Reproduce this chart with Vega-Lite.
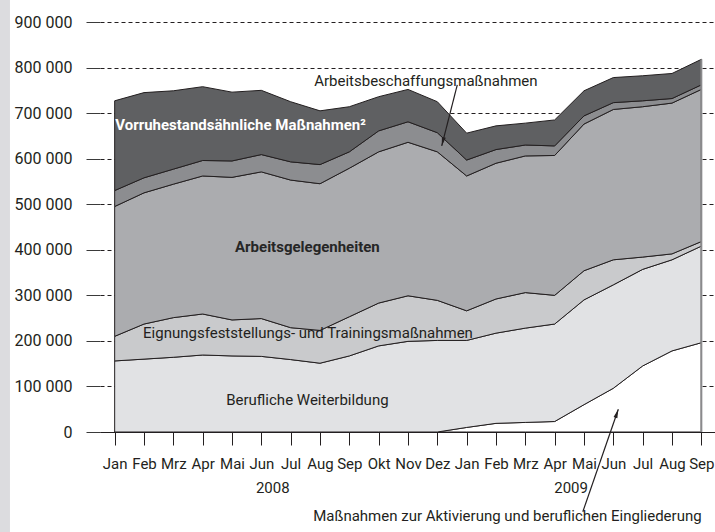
{
  "$schema": "https://vega.github.io/schema/vega-lite/v6.json",
  "width": 616,
  "height": 410,
  "autosize": "none",
  "padding": {"left": 100, "top": 22, "right": 0, "bottom": 100},
  "background": "white",
  "config": {
    "view": {"stroke": null},
    "font": "Roboto",
    "axis": {"labelFont": "Roboto", "labelColor": "#231f20", "titleFont": "Roboto"},
    "axisX": {"grid": false, "domain": true, "domainColor": "#231f20", "domainWidth": 1, "ticks": true, "tickSize": 13, "tickColor": "#231f20", "tickWidth": 1, "labelFontSize": 15, "labelPadding": 11, "labelFlush": false, "labelOverlap": false},
    "axisY": {"grid": true, "gridDash": [4, 3], "gridColor": "#231f20", "gridWidth": 1, "domain": false, "ticks": true, "tickSize": 14, "tickColor": "#3a3a3a", "tickWidth": 1, "labelFontSize": 16, "labelPadding": 14, "labelOverlap": false}
  },
  "datasets": {
    "series": [
      {"m": 0, "s": "Maßnahmen zur Aktivierung und beruflichen Eingliederung", "v": 0},
      {"m": 1, "s": "Maßnahmen zur Aktivierung und beruflichen Eingliederung", "v": 0},
      {"m": 2, "s": "Maßnahmen zur Aktivierung und beruflichen Eingliederung", "v": 0},
      {"m": 3, "s": "Maßnahmen zur Aktivierung und beruflichen Eingliederung", "v": 0},
      {"m": 4, "s": "Maßnahmen zur Aktivierung und beruflichen Eingliederung", "v": 0},
      {"m": 5, "s": "Maßnahmen zur Aktivierung und beruflichen Eingliederung", "v": 0},
      {"m": 6, "s": "Maßnahmen zur Aktivierung und beruflichen Eingliederung", "v": 0},
      {"m": 7, "s": "Maßnahmen zur Aktivierung und beruflichen Eingliederung", "v": 0},
      {"m": 8, "s": "Maßnahmen zur Aktivierung und beruflichen Eingliederung", "v": 0},
      {"m": 9, "s": "Maßnahmen zur Aktivierung und beruflichen Eingliederung", "v": 0},
      {"m": 10, "s": "Maßnahmen zur Aktivierung und beruflichen Eingliederung", "v": 0},
      {"m": 11, "s": "Maßnahmen zur Aktivierung und beruflichen Eingliederung", "v": 0},
      {"m": 12, "s": "Maßnahmen zur Aktivierung und beruflichen Eingliederung", "v": 10000},
      {"m": 13, "s": "Maßnahmen zur Aktivierung und beruflichen Eingliederung", "v": 19000},
      {"m": 14, "s": "Maßnahmen zur Aktivierung und beruflichen Eingliederung", "v": 21000},
      {"m": 15, "s": "Maßnahmen zur Aktivierung und beruflichen Eingliederung", "v": 23000},
      {"m": 16, "s": "Maßnahmen zur Aktivierung und beruflichen Eingliederung", "v": 60000},
      {"m": 17, "s": "Maßnahmen zur Aktivierung und beruflichen Eingliederung", "v": 96000},
      {"m": 18, "s": "Maßnahmen zur Aktivierung und beruflichen Eingliederung", "v": 145000},
      {"m": 19, "s": "Maßnahmen zur Aktivierung und beruflichen Eingliederung", "v": 178000},
      {"m": 20, "s": "Maßnahmen zur Aktivierung und beruflichen Eingliederung", "v": 196000},
      {"m": 0, "s": "Berufliche Weiterbildung", "v": 156000},
      {"m": 1, "s": "Berufliche Weiterbildung", "v": 160000},
      {"m": 2, "s": "Berufliche Weiterbildung", "v": 164000},
      {"m": 3, "s": "Berufliche Weiterbildung", "v": 169000},
      {"m": 4, "s": "Berufliche Weiterbildung", "v": 167000},
      {"m": 5, "s": "Berufliche Weiterbildung", "v": 166000},
      {"m": 6, "s": "Berufliche Weiterbildung", "v": 159000},
      {"m": 7, "s": "Berufliche Weiterbildung", "v": 151000},
      {"m": 8, "s": "Berufliche Weiterbildung", "v": 167000},
      {"m": 9, "s": "Berufliche Weiterbildung", "v": 189000},
      {"m": 10, "s": "Berufliche Weiterbildung", "v": 199000},
      {"m": 11, "s": "Berufliche Weiterbildung", "v": 201000},
      {"m": 12, "s": "Berufliche Weiterbildung", "v": 191000},
      {"m": 13, "s": "Berufliche Weiterbildung", "v": 198000},
      {"m": 14, "s": "Berufliche Weiterbildung", "v": 207000},
      {"m": 15, "s": "Berufliche Weiterbildung", "v": 214000},
      {"m": 16, "s": "Berufliche Weiterbildung", "v": 230000},
      {"m": 17, "s": "Berufliche Weiterbildung", "v": 227000},
      {"m": 18, "s": "Berufliche Weiterbildung", "v": 212000},
      {"m": 19, "s": "Berufliche Weiterbildung", "v": 200000},
      {"m": 20, "s": "Berufliche Weiterbildung", "v": 212000},
      {"m": 0, "s": "Eignungsfeststellungs- und Trainingsmaßnahmen", "v": 54000},
      {"m": 1, "s": "Eignungsfeststellungs- und Trainingsmaßnahmen", "v": 77000},
      {"m": 2, "s": "Eignungsfeststellungs- und Trainingsmaßnahmen", "v": 87000},
      {"m": 3, "s": "Eignungsfeststellungs- und Trainingsmaßnahmen", "v": 90000},
      {"m": 4, "s": "Eignungsfeststellungs- und Trainingsmaßnahmen", "v": 79000},
      {"m": 5, "s": "Eignungsfeststellungs- und Trainingsmaßnahmen", "v": 83000},
      {"m": 6, "s": "Eignungsfeststellungs- und Trainingsmaßnahmen", "v": 70000},
      {"m": 7, "s": "Eignungsfeststellungs- und Trainingsmaßnahmen", "v": 72000},
      {"m": 8, "s": "Eignungsfeststellungs- und Trainingsmaßnahmen", "v": 86000},
      {"m": 9, "s": "Eignungsfeststellungs- und Trainingsmaßnahmen", "v": 94000},
      {"m": 10, "s": "Eignungsfeststellungs- und Trainingsmaßnahmen", "v": 100000},
      {"m": 11, "s": "Eignungsfeststellungs- und Trainingsmaßnahmen", "v": 88000},
      {"m": 12, "s": "Eignungsfeststellungs- und Trainingsmaßnahmen", "v": 65000},
      {"m": 13, "s": "Eignungsfeststellungs- und Trainingsmaßnahmen", "v": 75000},
      {"m": 14, "s": "Eignungsfeststellungs- und Trainingsmaßnahmen", "v": 78000},
      {"m": 15, "s": "Eignungsfeststellungs- und Trainingsmaßnahmen", "v": 63000},
      {"m": 16, "s": "Eignungsfeststellungs- und Trainingsmaßnahmen", "v": 64000},
      {"m": 17, "s": "Eignungsfeststellungs- und Trainingsmaßnahmen", "v": 55000},
      {"m": 18, "s": "Eignungsfeststellungs- und Trainingsmaßnahmen", "v": 27000},
      {"m": 19, "s": "Eignungsfeststellungs- und Trainingsmaßnahmen", "v": 13000},
      {"m": 20, "s": "Eignungsfeststellungs- und Trainingsmaßnahmen", "v": 10000},
      {"m": 0, "s": "Arbeitsgelegenheiten", "v": 285000},
      {"m": 1, "s": "Arbeitsgelegenheiten", "v": 288000},
      {"m": 2, "s": "Arbeitsgelegenheiten", "v": 293000},
      {"m": 3, "s": "Arbeitsgelegenheiten", "v": 303000},
      {"m": 4, "s": "Arbeitsgelegenheiten", "v": 313000},
      {"m": 5, "s": "Arbeitsgelegenheiten", "v": 322000},
      {"m": 6, "s": "Arbeitsgelegenheiten", "v": 324000},
      {"m": 7, "s": "Arbeitsgelegenheiten", "v": 322000},
      {"m": 8, "s": "Arbeitsgelegenheiten", "v": 326000},
      {"m": 9, "s": "Arbeitsgelegenheiten", "v": 332000},
      {"m": 10, "s": "Arbeitsgelegenheiten", "v": 337000},
      {"m": 11, "s": "Arbeitsgelegenheiten", "v": 326000},
      {"m": 12, "s": "Arbeitsgelegenheiten", "v": 296000},
      {"m": 13, "s": "Arbeitsgelegenheiten", "v": 298000},
      {"m": 14, "s": "Arbeitsgelegenheiten", "v": 300000},
      {"m": 15, "s": "Arbeitsgelegenheiten", "v": 307000},
      {"m": 16, "s": "Arbeitsgelegenheiten", "v": 322000},
      {"m": 17, "s": "Arbeitsgelegenheiten", "v": 330000},
      {"m": 18, "s": "Arbeitsgelegenheiten", "v": 330000},
      {"m": 19, "s": "Arbeitsgelegenheiten", "v": 331000},
      {"m": 20, "s": "Arbeitsgelegenheiten", "v": 334000},
      {"m": 0, "s": "Arbeitsbeschaffungsmaßnahmen", "v": 35000},
      {"m": 1, "s": "Arbeitsbeschaffungsmaßnahmen", "v": 33000},
      {"m": 2, "s": "Arbeitsbeschaffungsmaßnahmen", "v": 33000},
      {"m": 3, "s": "Arbeitsbeschaffungsmaßnahmen", "v": 34000},
      {"m": 4, "s": "Arbeitsbeschaffungsmaßnahmen", "v": 36000},
      {"m": 5, "s": "Arbeitsbeschaffungsmaßnahmen", "v": 38000},
      {"m": 6, "s": "Arbeitsbeschaffungsmaßnahmen", "v": 40000},
      {"m": 7, "s": "Arbeitsbeschaffungsmaßnahmen", "v": 42000},
      {"m": 8, "s": "Arbeitsbeschaffungsmaßnahmen", "v": 36000},
      {"m": 9, "s": "Arbeitsbeschaffungsmaßnahmen", "v": 46000},
      {"m": 10, "s": "Arbeitsbeschaffungsmaßnahmen", "v": 45000},
      {"m": 11, "s": "Arbeitsbeschaffungsmaßnahmen", "v": 42000},
      {"m": 12, "s": "Arbeitsbeschaffungsmaßnahmen", "v": 35000},
      {"m": 13, "s": "Arbeitsbeschaffungsmaßnahmen", "v": 30000},
      {"m": 14, "s": "Arbeitsbeschaffungsmaßnahmen", "v": 24000},
      {"m": 15, "s": "Arbeitsbeschaffungsmaßnahmen", "v": 21000},
      {"m": 16, "s": "Arbeitsbeschaffungsmaßnahmen", "v": 18000},
      {"m": 17, "s": "Arbeitsbeschaffungsmaßnahmen", "v": 15000},
      {"m": 18, "s": "Arbeitsbeschaffungsmaßnahmen", "v": 13000},
      {"m": 19, "s": "Arbeitsbeschaffungsmaßnahmen", "v": 10000},
      {"m": 20, "s": "Arbeitsbeschaffungsmaßnahmen", "v": 10000},
      {"m": 0, "s": "Vorruhestandsähnliche Maßnahmen", "v": 197000},
      {"m": 1, "s": "Vorruhestandsähnliche Maßnahmen", "v": 187000},
      {"m": 2, "s": "Vorruhestandsähnliche Maßnahmen", "v": 172000},
      {"m": 3, "s": "Vorruhestandsähnliche Maßnahmen", "v": 162000},
      {"m": 4, "s": "Vorruhestandsähnliche Maßnahmen", "v": 151000},
      {"m": 5, "s": "Vorruhestandsähnliche Maßnahmen", "v": 141000},
      {"m": 6, "s": "Vorruhestandsähnliche Maßnahmen", "v": 132000},
      {"m": 7, "s": "Vorruhestandsähnliche Maßnahmen", "v": 118000},
      {"m": 8, "s": "Vorruhestandsähnliche Maßnahmen", "v": 99000},
      {"m": 9, "s": "Vorruhestandsähnliche Maßnahmen", "v": 75000},
      {"m": 10, "s": "Vorruhestandsähnliche Maßnahmen", "v": 71000},
      {"m": 11, "s": "Vorruhestandsähnliche Maßnahmen", "v": 68000},
      {"m": 12, "s": "Vorruhestandsähnliche Maßnahmen", "v": 59000},
      {"m": 13, "s": "Vorruhestandsähnliche Maßnahmen", "v": 52000},
      {"m": 14, "s": "Vorruhestandsähnliche Maßnahmen", "v": 48000},
      {"m": 15, "s": "Vorruhestandsähnliche Maßnahmen", "v": 57000},
      {"m": 16, "s": "Vorruhestandsähnliche Maßnahmen", "v": 55000},
      {"m": 17, "s": "Vorruhestandsähnliche Maßnahmen", "v": 55000},
      {"m": 18, "s": "Vorruhestandsähnliche Maßnahmen", "v": 55000},
      {"m": 19, "s": "Vorruhestandsähnliche Maßnahmen", "v": 55000},
      {"m": 20, "s": "Vorruhestandsähnliche Maßnahmen", "v": 56000}
    ],
    "labels": [
      {"t": "Berufliche Weiterbildung", "m": 6.57, "v": 70000},
      {"t": "Eignungsfeststellungs- und Trainingsmaßnahmen", "m": 6.59, "v": 218000},
      {"t": "Arbeitsbeschaffungsmaßnahmen", "m": 10.61, "v": 771000},
      {"t": "Maßnahmen zur Aktivierung und beruflichen Eingliederung", "m": 13.39, "v": -184000},
      {"t": "2008", "m": 5.39, "v": -124000},
      {"t": "2009", "m": 15.56, "v": -124000}
    ],
    "boldlabels": [
      {"t": "Arbeitsgelegenheiten", "m": 6.57, "v": 407000}
    ],
    "whitelabels": [
      {"t": "Vorruhestandsähnliche Maßnahmen²", "m": 0.02, "v": 675000}
    ],
    "arrows": [
      {"a": "Arbeitsbeschaffungsmaßnahmen", "m1": 11.68, "v1": 762000, "m2": 11.15, "v2": 628000},
      {"a": "Maßnahmen zur Aktivierung und beruflichen Eingliederung", "m1": 15.96, "v1": -175000, "m2": 17.17, "v2": 50000}
    ]
  },
  "layer": [
    {
      "data": {"name": "series"},
      "transform": [
        {"calculate": "indexof(['Maßnahmen zur Aktivierung und beruflichen Eingliederung','Berufliche Weiterbildung','Eignungsfeststellungs- und Trainingsmaßnahmen','Arbeitsgelegenheiten','Arbeitsbeschaffungsmaßnahmen','Vorruhestandsähnliche Maßnahmen'], datum.s)", "as": "ord"}
      ],
      "mark": {"type": "area", "interpolate": "linear", "stroke": "#231f20", "strokeWidth": 1, "strokeJoin": "miter"},
      "encoding": {
        "x": {
          "field": "m", "type": "quantitative",
          "scale": {"domain": [-0.5, 20.5], "nice": false, "zero": false},
          "axis": {"title": null, "values": [0,1,2,3,4,5,6,7,8,9,10,11,12,13,14,15,16,17,18,19,20], "labelExpr": "['Jan','Feb','Mrz','Apr','Mai','Jun','Jul','Aug','Sep','Okt','Nov','Dez'][datum.value % 12]"}
        },
        "y": {
          "field": "v", "type": "quantitative", "stack": "zero",
          "scale": {"domain": [0, 900000], "nice": false},
          "axis": {"title": null, "values": [0,100000,200000,300000,400000,500000,600000,700000,800000,900000], "labelExpr": "replace(format(datum.value, ','), ',', ' ')"}
        },
        "color": {
          "field": "s", "type": "nominal", "legend": null,
          "scale": {
            "domain": ["Maßnahmen zur Aktivierung und beruflichen Eingliederung","Berufliche Weiterbildung","Eignungsfeststellungs- und Trainingsmaßnahmen","Arbeitsgelegenheiten","Arbeitsbeschaffungsmaßnahmen","Vorruhestandsähnliche Maßnahmen"],
            "range": ["#ffffff", "#e1e2e4", "#c9cacc", "#abacaf", "#8c8d90", "#5f6062"]
          }
        },
        "order": {"field": "ord", "type": "quantitative"}
      }
    },
    {
      "data": {"values": [{}]},
      "mark": {"type": "rect", "color": "#dcdcdf"},
      "encoding": {
        "x": {"datum": -3.92, "type": "quantitative", "axis": {"title": null, "values": [0,1,2,3,4,5,6,7,8,9,10,11,12,13,14,15,16,17,18,19,20], "labelExpr": "['Jan','Feb','Mrz','Apr','Mai','Jun','Jul','Aug','Sep','Okt','Nov','Dez'][datum.value % 12]"}},
        "x2": {"datum": -3.57},
        "y": {"datum": 950000, "type": "quantitative", "axis": {"title": null, "values": [0,100000,200000,300000,400000,500000,600000,700000,800000,900000], "labelExpr": "replace(format(datum.value, ','), ',', ' ')"}},
        "y2": {"datum": -225000}
      }
    },
    {
      "data": {"values": [{}]},
      "mark": {"type": "rule", "color": "#8a8a8c", "strokeWidth": 2},
      "encoding": {
        "x": {"datum": 20, "type": "quantitative", "axis": {"title": null, "values": [0,1,2,3,4,5,6,7,8,9,10,11,12,13,14,15,16,17,18,19,20], "labelExpr": "['Jan','Feb','Mrz','Apr','Mai','Jun','Jul','Aug','Sep','Okt','Nov','Dez'][datum.value % 12]"}},
        "y": {"datum": 0, "type": "quantitative", "axis": {"title": null, "values": [0,100000,200000,300000,400000,500000,600000,700000,800000,900000], "labelExpr": "replace(format(datum.value, ','), ',', ' ')"}},
        "y2": {"datum": 818000}
      }
    },
    {
      "data": {"name": "labels"},
      "mark": {"type": "text", "font": "Roboto", "fontSize": 15, "color": "#231f20", "align": "center", "baseline": "middle"},
      "encoding": {
        "x": {"field": "m", "type": "quantitative", "axis": {"title": null, "values": [0,1,2,3,4,5,6,7,8,9,10,11,12,13,14,15,16,17,18,19,20], "labelExpr": "['Jan','Feb','Mrz','Apr','Mai','Jun','Jul','Aug','Sep','Okt','Nov','Dez'][datum.value % 12]"}},
        "y": {"field": "v", "type": "quantitative", "axis": {"title": null, "values": [0,100000,200000,300000,400000,500000,600000,700000,800000,900000], "labelExpr": "replace(format(datum.value, ','), ',', ' ')"}},
        "text": {"field": "t"}
      }
    },
    {
      "data": {"name": "boldlabels"},
      "mark": {"type": "text", "font": "Roboto", "fontSize": 15, "fontWeight": "bold", "color": "#262626", "align": "center", "baseline": "middle"},
      "encoding": {
        "x": {"field": "m", "type": "quantitative", "axis": {"title": null, "values": [0,1,2,3,4,5,6,7,8,9,10,11,12,13,14,15,16,17,18,19,20], "labelExpr": "['Jan','Feb','Mrz','Apr','Mai','Jun','Jul','Aug','Sep','Okt','Nov','Dez'][datum.value % 12]"}},
        "y": {"field": "v", "type": "quantitative", "axis": {"title": null, "values": [0,100000,200000,300000,400000,500000,600000,700000,800000,900000], "labelExpr": "replace(format(datum.value, ','), ',', ' ')"}},
        "text": {"field": "t"}
      }
    },
    {
      "data": {"name": "whitelabels"},
      "mark": {"type": "text", "font": "Roboto", "fontSize": 15, "fontWeight": "bold", "color": "#ffffff", "align": "left", "baseline": "middle"},
      "encoding": {
        "x": {"field": "m", "type": "quantitative", "axis": {"title": null, "values": [0,1,2,3,4,5,6,7,8,9,10,11,12,13,14,15,16,17,18,19,20], "labelExpr": "['Jan','Feb','Mrz','Apr','Mai','Jun','Jul','Aug','Sep','Okt','Nov','Dez'][datum.value % 12]"}},
        "y": {"field": "v", "type": "quantitative", "axis": {"title": null, "values": [0,100000,200000,300000,400000,500000,600000,700000,800000,900000], "labelExpr": "replace(format(datum.value, ','), ',', ' ')"}},
        "text": {"field": "t"}
      }
    },
    {
      "data": {"name": "arrows"},
      "mark": {"type": "rule", "color": "#231f20", "strokeWidth": 1.2},
      "encoding": {
        "x": {"field": "m1", "type": "quantitative", "axis": {"title": null, "values": [0,1,2,3,4,5,6,7,8,9,10,11,12,13,14,15,16,17,18,19,20], "labelExpr": "['Jan','Feb','Mrz','Apr','Mai','Jun','Jul','Aug','Sep','Okt','Nov','Dez'][datum.value % 12]"}},
        "y": {"field": "v1", "type": "quantitative", "axis": {"title": null, "values": [0,100000,200000,300000,400000,500000,600000,700000,800000,900000], "labelExpr": "replace(format(datum.value, ','), ',', ' ')"}},
        "x2": {"field": "m2"},
        "y2": {"field": "v2"}
      }
    },
    {
      "data": {"name": "arrows"},
      "transform": [{"filter": "datum.a == 'Arbeitsbeschaffungsmaßnahmen'"}],
      "mark": {"type": "point", "shape": "M0,0L0.5,2.2L-0.5,2.2Z", "filled": true, "color": "#231f20", "size": 64, "opacity": 1, "angle": 194},
      "encoding": {
        "x": {"field": "m2", "type": "quantitative", "axis": {"title": null, "values": [0,1,2,3,4,5,6,7,8,9,10,11,12,13,14,15,16,17,18,19,20], "labelExpr": "['Jan','Feb','Mrz','Apr','Mai','Jun','Jul','Aug','Sep','Okt','Nov','Dez'][datum.value % 12]"}},
        "y": {"field": "v2", "type": "quantitative", "axis": {"title": null, "values": [0,100000,200000,300000,400000,500000,600000,700000,800000,900000], "labelExpr": "replace(format(datum.value, ','), ',', ' ')"}}
      }
    },
    {
      "data": {"name": "arrows"},
      "transform": [{"filter": "datum.a == 'Maßnahmen zur Aktivierung und beruflichen Eingliederung'"}],
      "mark": {"type": "point", "shape": "M0,0L0.5,2.2L-0.5,2.2Z", "filled": true, "color": "#231f20", "size": 64, "opacity": 1, "angle": 19},
      "encoding": {
        "x": {"field": "m2", "type": "quantitative", "axis": {"title": null, "values": [0,1,2,3,4,5,6,7,8,9,10,11,12,13,14,15,16,17,18,19,20], "labelExpr": "['Jan','Feb','Mrz','Apr','Mai','Jun','Jul','Aug','Sep','Okt','Nov','Dez'][datum.value % 12]"}},
        "y": {"field": "v2", "type": "quantitative", "axis": {"title": null, "values": [0,100000,200000,300000,400000,500000,600000,700000,800000,900000], "labelExpr": "replace(format(datum.value, ','), ',', ' ')"}}
      }
    }
  ]
}
